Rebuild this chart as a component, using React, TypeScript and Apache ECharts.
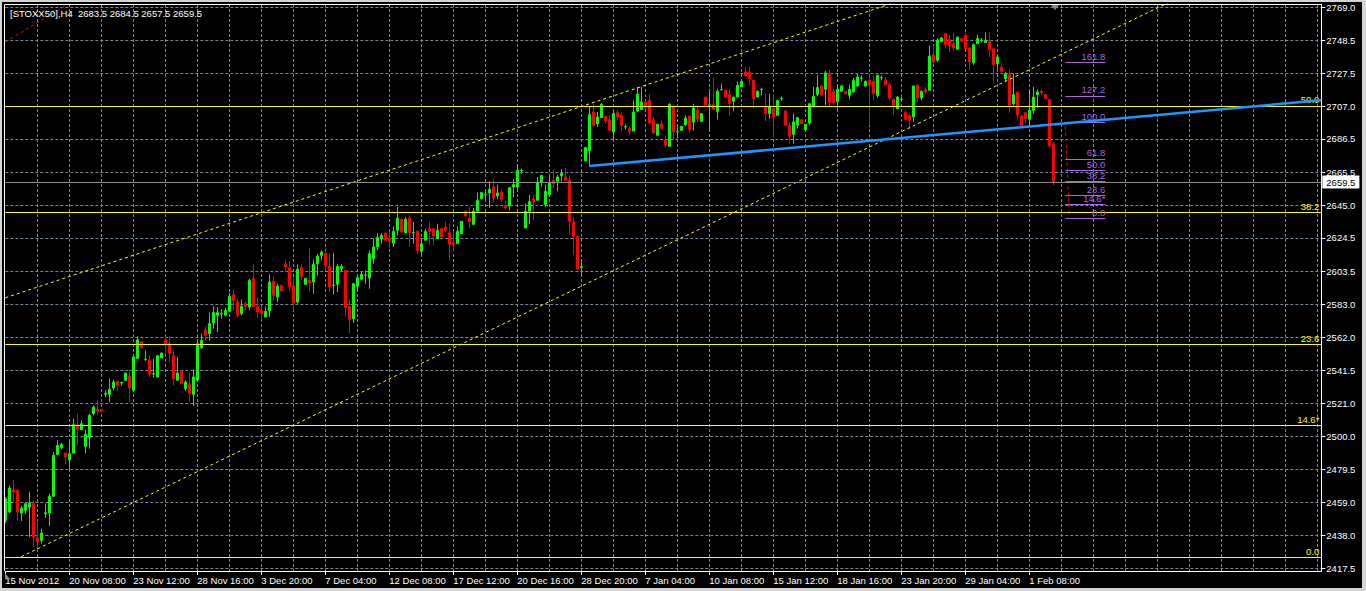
import React, { useEffect, useRef } from "react";
import * as echarts from "echarts";

// ---- OHLC data (H4 bars, STOXX50, 15 Nov 2012 .. 4 Feb 2013) ----
const opens = [
  2447.5, 2452.8, 2466.5, 2466.3, 2452.1, 2453.8, 2455.9, 2458.0, 2436.7, 2434.9,
  2451.7, 2452.1, 2462.6, 2488.9, 2493.0, 2489.7, 2485.5, 2489.7, 2507.5, 2504.3,
  2493.9, 2499.3, 2514.4, 2517.1, 2517.0, 2526.6, 2526.5, 2530.5, 2534.6, 2533.6,
  2535.3, 2538.0, 2529.0, 2549.0, 2559.5, 2548.4, 2547.8, 2539.2, 2537.4, 2549.3,
  2560.7, 2558.2, 2550.9, 2535.3, 2541.1, 2530.0, 2532.8, 2526.5, 2535.3, 2555.7,
  2567.0, 2564.5, 2571.2, 2576.0, 2577.0, 2576.0, 2578.5, 2589.0, 2584.4, 2577.0,
  2583.3, 2581.2, 2599.0, 2581.6, 2579.1, 2575.0, 2578.7, 2597.3, 2587.5, 2594.8,
  2608.0, 2605.9, 2594.6, 2584.4, 2605.9, 2595.4, 2597.9, 2596.9, 2608.4, 2613.6,
  2614.6, 2606.7, 2594.7, 2595.4, 2605.2, 2604.2, 2581.6, 2573.9, 2594.2, 2598.6,
  2601.0, 2599.4, 2611.5, 2618.8, 2624.0, 2627.6, 2624.0, 2621.3, 2629.3, 2636.2,
  2627.8, 2637.0, 2627.6, 2628.6, 2616.1, 2623.0, 2630.3, 2630.3, 2624.0, 2630.3,
  2631.3, 2627.8, 2621.5, 2620.9, 2627.2, 2641.2, 2637.0, 2633.0, 2641.4, 2649.1,
  2651.6, 2652.7, 2656.4, 2650.8, 2653.3, 2644.9, 2644.5, 2656.4, 2656.4, 2666.7,
  2630.7, 2641.2, 2649.1, 2648.1, 2659.5, 2645.4, 2651.6, 2660.6, 2660.0, 2663.3,
  2662.7, 2660.6, 2634.5, 2625.5, 2606.0, 2672.7, 2679.0, 2703.4, 2696.1, 2699.9,
  2700.7, 2698.6, 2690.9, 2703.0, 2701.3, 2694.0, 2693.0, 2691.5, 2704.0, 2704.9,
  2709.7, 2710.7, 2698.2, 2688.8, 2696.1, 2686.1, 2681.9, 2707.0, 2690.9, 2691.9,
  2695.5, 2700.9, 2697.1, 2704.5, 2697.5, 2712.8, 2707.6, 2708.0, 2703.8, 2717.3,
  2717.0, 2714.3, 2710.1, 2712.8, 2719.1, 2728.5, 2728.1, 2723.3, 2712.8, 2717.4,
  2706.6, 2702.4, 2705.5, 2701.3, 2711.7, 2704.0, 2695.1, 2689.4, 2695.1, 2698.6,
  2692.3, 2696.5, 2706.6, 2714.5, 2719.8, 2717.7, 2727.4, 2716.4, 2710.1, 2716.4,
  2716.4, 2713.8, 2715.9, 2719.7, 2724.6, 2719.7, 2723.2, 2722.6, 2713.8, 2724.9,
  2723.2, 2720.5, 2711.3, 2705.5, 2711.3, 2703.0, 2701.3, 2700.3, 2720.1, 2712.2,
  2717.6, 2717.0, 2739.3, 2735.8, 2747.3, 2752.5, 2748.9, 2746.2, 2742.7, 2749.4,
  2751.5, 2743.5, 2734.3, 2746.2, 2748.2, 2746.9, 2747.7, 2743.1, 2733.7, 2731.6,
  2724.3, 2726.8, 2708.6, 2715.9, 2700.9, 2703.0, 2698.8, 2704.4, 2714.3, 2716.4,
  2714.3, 2711.3, 2683.5,
];
const highs = [
  2462.0, 2469.5, 2472.6, 2467.0, 2456.3, 2458.6, 2465.5, 2460.1, 2445.9, 2442.3,
  2458.0, 2464.2, 2490.4, 2497.7, 2496.0, 2490.0, 2497.7, 2511.2, 2514.4, 2510.2,
  2504.4, 2514.4, 2519.6, 2523.1, 2517.5, 2529.0, 2536.3, 2535.7, 2535.3, 2534.2,
  2540.0, 2542.0, 2550.0, 2562.8, 2559.5, 2554.0, 2550.9, 2548.8, 2550.9, 2552.6,
  2562.8, 2562.8, 2554.0, 2549.9, 2542.0, 2535.3, 2539.9, 2542.0, 2560.3, 2564.5,
  2569.1, 2577.7, 2581.6, 2581.2, 2579.8, 2580.8, 2590.0, 2591.7, 2586.0, 2586.0,
  2584.8, 2599.0, 2608.0, 2587.1, 2581.6, 2581.6, 2601.7, 2600.4, 2595.8, 2594.8,
  2610.9, 2609.8, 2599.6, 2608.0, 2608.0, 2599.2, 2618.4, 2610.9, 2614.6, 2616.7,
  2616.7, 2615.0, 2615.0, 2608.0, 2608.0, 2604.2, 2586.0, 2596.3, 2601.7, 2603.4,
  2604.2, 2616.7, 2624.0, 2627.6, 2627.6, 2627.6, 2628.2, 2631.8, 2643.9, 2636.6,
  2637.6, 2638.7, 2634.5, 2629.3, 2624.0, 2630.3, 2634.5, 2630.3, 2633.4, 2630.3,
  2634.5, 2633.4, 2628.6, 2631.8, 2634.9, 2641.8, 2643.9, 2643.3, 2652.9, 2652.9,
  2655.0, 2660.0, 2661.2, 2657.9, 2655.0, 2648.1, 2656.0, 2661.2, 2670.4, 2667.9,
  2646.0, 2651.6, 2651.2, 2662.7, 2663.7, 2657.9, 2664.8, 2667.5, 2664.1, 2667.5,
  2668.5, 2663.7, 2637.6, 2626.1, 2609.4, 2681.1, 2706.6, 2708.6, 2703.4, 2709.0,
  2700.7, 2701.3, 2704.5, 2704.5, 2702.8, 2695.7, 2694.0, 2710.7, 2719.1, 2719.1,
  2710.7, 2714.5, 2700.3, 2695.7, 2698.2, 2688.8, 2709.0, 2708.2, 2694.0, 2694.6,
  2701.3, 2701.0, 2708.6, 2707.6, 2702.4, 2712.8, 2715.9, 2724.7, 2718.0, 2721.2,
  2717.0, 2718.0, 2712.8, 2722.6, 2722.6, 2731.5, 2731.5, 2723.3, 2717.0, 2718.7,
  2714.9, 2714.9, 2714.9, 2710.7, 2713.2, 2704.5, 2697.2, 2702.4, 2699.9, 2698.6,
  2695.7, 2708.6, 2719.1, 2726.4, 2720.1, 2729.1, 2730.1, 2718.0, 2720.1, 2720.1,
  2716.4, 2720.5, 2724.7, 2727.4, 2726.4, 2723.2, 2726.4, 2726.8, 2726.8, 2726.4,
  2725.3, 2722.2, 2712.2, 2713.4, 2712.8, 2704.4, 2702.4, 2719.7, 2721.2, 2717.0,
  2719.1, 2745.2, 2745.2, 2749.4, 2750.4, 2753.1, 2751.9, 2753.1, 2750.4, 2749.4,
  2753.1, 2744.1, 2746.2, 2751.9, 2749.8, 2753.1, 2753.5, 2743.1, 2739.3, 2734.3,
  2728.5, 2730.1, 2727.4, 2715.9, 2701.7, 2703.0, 2717.6, 2719.1, 2717.6, 2717.6,
  2714.3, 2711.3, 2684.5,
];
const lows = [
  2446.0, 2452.0, 2459.0, 2447.5, 2447.1, 2451.7, 2437.1, 2430.8, 2429.0, 2432.9,
  2449.0, 2443.8, 2462.2, 2488.3, 2492.0, 2482.6, 2479.3, 2489.3, 2494.5, 2504.0,
  2489.7, 2492.4, 2513.3, 2513.3, 2515.0, 2524.8, 2521.7, 2529.0, 2529.0, 2532.1,
  2535.0, 2521.7, 2529.0, 2549.0, 2555.0, 2547.4, 2537.4, 2537.0, 2537.0, 2549.0,
  2552.0, 2546.7, 2532.1, 2535.0, 2533.0, 2528.6, 2521.7, 2519.2, 2535.0, 2555.0,
  2560.0, 2560.0, 2567.6, 2565.6, 2573.9, 2575.6, 2578.5, 2579.1, 2574.5, 2576.0,
  2579.1, 2579.1, 2581.2, 2574.5, 2573.5, 2575.0, 2575.0, 2585.4, 2584.4, 2591.2,
  2604.2, 2591.2, 2579.1, 2583.3, 2597.9, 2595.4, 2591.0, 2589.6, 2601.0, 2610.5,
  2604.2, 2590.6, 2589.0, 2590.6, 2603.2, 2575.4, 2564.5, 2571.2, 2591.2, 2598.6,
  2595.8, 2592.7, 2608.4, 2616.7, 2620.9, 2623.0, 2618.2, 2618.8, 2626.1, 2628.2,
  2627.2, 2618.8, 2620.9, 2614.6, 2613.6, 2623.0, 2620.3, 2619.9, 2624.0, 2624.5,
  2627.8, 2610.5, 2615.7, 2620.9, 2627.2, 2637.6, 2630.7, 2632.4, 2641.2, 2648.5,
  2648.1, 2643.3, 2647.0, 2648.7, 2647.0, 2642.4, 2641.8, 2650.0, 2653.7, 2664.8,
  2630.7, 2633.4, 2635.5, 2648.1, 2656.4, 2643.9, 2651.6, 2655.8, 2653.7, 2660.0,
  2660.6, 2626.5, 2613.6, 2604.2, 2601.0, 2672.7, 2669.0, 2694.0, 2694.0, 2699.9,
  2696.1, 2691.9, 2686.1, 2698.2, 2691.5, 2692.3, 2688.8, 2691.5, 2703.4, 2704.9,
  2705.5, 2696.1, 2689.8, 2688.8, 2693.0, 2681.1, 2681.9, 2685.7, 2686.7, 2691.5,
  2694.6, 2690.4, 2691.9, 2697.1, 2697.5, 2707.6, 2692.5, 2705.0, 2698.8, 2717.0,
  2712.8, 2700.9, 2703.8, 2712.8, 2719.1, 2726.0, 2720.1, 2705.5, 2712.8, 2713.9,
  2697.8, 2699.2, 2687.7, 2701.3, 2710.3, 2695.1, 2683.6, 2683.6, 2693.0, 2696.1,
  2692.3, 2695.1, 2706.6, 2713.2, 2713.9, 2707.6, 2706.5, 2708.0, 2705.5, 2716.0,
  2714.3, 2711.3, 2715.9, 2719.1, 2722.6, 2719.0, 2695.0, 2710.7, 2712.2, 2723.2,
  2720.1, 2710.7, 2701.7, 2705.1, 2709.7, 2698.2, 2692.5, 2697.2, 2709.7, 2710.7,
  2714.9, 2717.0, 2733.7, 2734.7, 2747.3, 2743.1, 2741.0, 2742.0, 2742.7, 2747.7,
  2742.7, 2729.5, 2733.0, 2746.2, 2746.9, 2746.9, 2737.9, 2722.6, 2730.6, 2726.8,
  2722.6, 2703.0, 2707.6, 2698.8, 2695.0, 2696.1, 2695.0, 2702.4, 2705.9, 2713.9,
  2711.8, 2680.8, 2657.5,
];
const closes = [
  2461.0, 2467.8, 2465.3, 2452.8, 2455.2, 2458.0, 2458.4, 2437.1, 2433.9, 2439.6,
  2452.3, 2462.6, 2488.3, 2494.5, 2495.2, 2487.2, 2489.3, 2507.5, 2504.6, 2508.1,
  2501.4, 2513.3, 2518.5, 2516.0, 2516.0, 2527.0, 2529.6, 2534.2, 2532.1, 2534.0,
  2539.9, 2530.5, 2549.9, 2560.7, 2555.7, 2548.6, 2539.2, 2539.4, 2550.7, 2552.4,
  2557.4, 2552.0, 2536.3, 2539.9, 2533.2, 2534.2, 2526.9, 2537.4, 2558.2, 2560.3,
  2563.5, 2570.8, 2577.7, 2577.7, 2577.3, 2579.1, 2587.9, 2585.4, 2576.0, 2581.6,
  2581.6, 2597.9, 2581.6, 2578.1, 2577.0, 2578.5, 2596.9, 2588.5, 2594.2, 2591.2,
  2606.3, 2593.8, 2583.7, 2604.8, 2600.4, 2599.2, 2596.3, 2608.0, 2613.0, 2615.7,
  2607.3, 2593.8, 2595.0, 2606.7, 2606.7, 2580.8, 2573.3, 2595.8, 2599.6, 2601.7,
  2601.1, 2614.6, 2618.8, 2624.7, 2626.1, 2623.0, 2622.6, 2628.6, 2636.8, 2628.2,
  2636.2, 2627.8, 2627.8, 2616.7, 2620.9, 2628.6, 2628.6, 2625.7, 2629.3, 2625.1,
  2629.3, 2620.5, 2620.5, 2628.6, 2634.9, 2638.3, 2634.5, 2641.2, 2648.1, 2652.9,
  2651.8, 2654.9, 2649.5, 2652.7, 2648.7, 2643.3, 2656.0, 2657.9, 2666.9, 2666.9,
  2641.2, 2647.4, 2647.0, 2659.5, 2663.7, 2653.7, 2659.5, 2658.5, 2662.7, 2664.8,
  2660.6, 2634.9, 2625.5, 2605.2, 2606.5, 2681.1, 2701.9, 2695.1, 2700.3, 2708.2,
  2697.8, 2691.9, 2702.4, 2700.3, 2695.1, 2694.2, 2690.9, 2703.4, 2714.5, 2709.7,
  2706.1, 2696.5, 2690.3, 2695.7, 2693.0, 2682.5, 2708.2, 2690.9, 2691.1, 2694.4,
  2699.7, 2692.5, 2705.9, 2698.8, 2702.4, 2707.6, 2707.8, 2705.1, 2716.4, 2717.5,
  2712.8, 2708.6, 2712.8, 2720.1, 2722.6, 2726.0, 2724.3, 2711.8, 2716.4, 2717.6,
  2702.4, 2706.6, 2700.3, 2710.7, 2711.8, 2695.1, 2688.2, 2697.2, 2699.9, 2696.1,
  2695.7, 2708.6, 2713.2, 2718.7, 2713.9, 2727.9, 2709.3, 2709.3, 2717.6, 2719.7,
  2714.9, 2717.6, 2723.2, 2725.3, 2724.7, 2722.6, 2720.5, 2714.9, 2726.4, 2725.0,
  2720.5, 2712.2, 2707.1, 2712.8, 2711.4, 2698.8, 2698.2, 2719.7, 2712.2, 2716.4,
  2715.9, 2738.5, 2734.7, 2748.3, 2749.8, 2745.6, 2744.8, 2743.5, 2750.4, 2747.7,
  2743.1, 2734.7, 2745.6, 2749.4, 2748.4, 2748.3, 2742.7, 2733.1, 2737.9, 2728.9,
  2727.4, 2707.6, 2714.3, 2701.7, 2695.0, 2699.2, 2704.4, 2712.8, 2715.9, 2715.5,
  2711.8, 2682.1, 2659.5,
];

// ---- axes ----
const SLOTS = 330; // bar slots across the chart (data + empty shift area)
const xTickLabels = [
  "15 Nov 2012", "20 Nov 08:00", "23 Nov 12:00", "28 Nov 16:00", "3 Dec 20:00",
  "7 Dec 04:00", "12 Dec 08:00", "17 Dec 12:00", "20 Dec 16:00", "28 Dec 20:00",
  "7 Jan 04:00", "10 Jan 08:00", "15 Jan 12:00", "18 Jan 16:00", "23 Jan 20:00",
  "29 Jan 04:00", "1 Feb 08:00",
];
const X_LABEL_STEP = 16;
const X_GRID_STEP = 8;
const yTickValues = [
  2417.5, 2438.0, 2459.0, 2479.5, 2500.0, 2521.0, 2541.5, 2562.0, 2583.0,
  2603.5, 2624.5, 2645.0, 2665.5, 2686.5, 2707.0, 2727.5, 2748.5, 2769.0,
];
const Y_MIN = 2415.81;
const Y_MAX = 2771.07;

// ---- objects drawn on the chart ----
const header = "[STOXX50],H4  2683.5 2684.5 2657.5 2659.5";
const lastPrice = 2659.5;
const fibRetLevels = [0, 14.6, 23.6, 38.2, 50];
const fibRetLabels = ["0.0", "14.6*", "23.6", "38.2", "50.0"];
const fibRetAnchors = [2424.4, 2990.0]; // 0% and 100%
const fibExpLevels = [0, 14.6, 23.6, 38.2, 50, 61.8, 100, 127.2, 161.8];
const fibExpLabels = ["0.0", "14.6*", "23.6", "38.2", "50.0", "61.8", "100.0", "127.2", "161.8"];
const fibExpAnchors = [2636.8, 2697.1]; // 0% and 100%
const fibExpBars = [265, 275];
const trendBlue = [[146, 2669.5], [329, 2710.8]];
const trendUpperYellow = [[0, 2587.0], [230, 2778.4]];
const trendLowerYellow = [[4, 2424.8], [300, 2783.1]];
const trendRedTop = [[0, 2747.3], [16, 2771.4]];
const trendRedFibo = [[265, 2694.2], [266, 2638.8]];

const FONT = "'Liberation Sans', Arial, sans-serif";
const GRID_COLOR = "#778899";
const PURPLE = "#a865e0";

export default function App() {
  const ref = useRef<HTMLDivElement>(null);

  useEffect(() => {
    if (!ref.current) return;
    const chart = echarts.init(ref.current, undefined, { renderer: "svg" });

    const categories = Array.from({ length: SLOTS }, (_, i) => String(i));
    const candles = opens.map((o, i) => [o, closes[i], lows[i], highs[i]]);
    const lastLabelIdx = (xTickLabels.length - 1) * X_LABEL_STEP;

    const fibRetPrice = (l: number) => fibRetAnchors[0] + (l / 100) * (fibRetAnchors[1] - fibRetAnchors[0]);
    const fibExpPrice = (l: number) => fibExpAnchors[0] + (l / 100) * (fibExpAnchors[1] - fibExpAnchors[0]);

    const dotted = (data: number[][], color: string, name: string) => ({
      type: "line",
      name,
      data,
      showSymbol: false,
      symbol: "none",
      silent: true,
      lineStyle: { color, width: 1, type: [3, 3] },
      z: 4,
    });

    const option: any = {
      animation: false,
      backgroundColor: "#000000",
      textStyle: { fontFamily: FONT },
      grid: { left: 5.33, top: 4, width: 1316, height: 567, containLabel: false },
      xAxis: {
        type: "category",
        data: categories,
        boundaryGap: false,
        axisLine: { show: true, lineStyle: { color: "#ffffff", width: 1 } },
        axisTick: {
          show: true,
          length: 4,
          interval: (i: number) => i % X_LABEL_STEP === 0 && i <= lastLabelIdx,
          lineStyle: { color: "#ffffff" },
        },
        axisLabel: {
          show: true,
          interval: (i: number) => i % X_LABEL_STEP === 0 && i <= lastLabelIdx,
          formatter: (v: string) => xTickLabels[Number(v) / X_LABEL_STEP] ?? "",
          align: "left",
          color: "#ffffff",
          fontSize: 9.5,
          fontFamily: FONT,
          margin: 4,
        },
        splitLine: {
          show: true,
          interval: (i: number) => i > 0 && i % X_GRID_STEP === 0,
          lineStyle: { color: GRID_COLOR, width: 1, type: [3, 2] },
        },
      },
      yAxis: {
        type: "value",
        position: "right",
        min: Y_MIN,
        max: Y_MAX,
        scale: true,
        axisLine: { show: true, lineStyle: { color: "#ffffff", width: 1 } },
        axisTick: {
          show: true,
          length: 4,
          customValues: yTickValues,
          lineStyle: { color: "#ffffff" },
        },
        axisLabel: {
          show: true,
          customValues: yTickValues,
          formatter: (v: number) => v.toFixed(1),
          color: "#ffffff",
          fontSize: 9.5,
          fontFamily: FONT,
          margin: 5,
        },
        splitLine: {
          show: true,
          lineStyle: { color: GRID_COLOR, width: 1, type: [3, 2] },
        },
      },
      series: [
        {
          type: "candlestick",
          name: "STOXX50",
          data: candles,
          barWidth: 2,
          clip: false,
          silent: true,
          itemStyle: {
            color: "#00ff00",
            color0: "#ff0000",
            borderColor: "#00ff00",
            borderColor0: "#ff0000",
            borderWidth: 1,
          },
          z: 2,
        },
        dotted(trendUpperYellow, "#ffff00", "upper"),
        dotted(trendLowerYellow, "#ffff00", "lower"),
        dotted(trendRedTop, "#ff0000", "redTop"),
        dotted(trendRedFibo, "#ff0000", "redFibo"),
        {
          type: "line",
          name: "blueTrend",
          data: trendBlue,
          showSymbol: false,
          symbol: "none",
          silent: true,
          lineStyle: { color: "#1e96ff", width: 2.5, type: "solid" },
          z: 5,
        },
        {
          type: "line",
          name: "fibRet",
          data: [],
          silent: true,
          z: 3,
          markLine: {
            silent: true,
            symbol: ["none", "none"],
            animation: false,
            lineStyle: { color: "#ffff00", width: 1, type: "solid" },
            label: {
              show: true,
              position: "insideEndTop",
              formatter: "{b}",
              color: "#ffff00",
              fontSize: 9.5,
              fontFamily: FONT,
              distance: [2, 1],
            },
            emphasis: { disabled: true },
            data: [
              ...fibRetLevels.map((l, k) => ({ name: fibRetLabels[k], yAxis: fibRetPrice(l) })),
            ],
          },
        },
        {
          type: "line",
          name: "lastPrice",
          data: [],
          silent: true,
          z: 3,
          markLine: {
            silent: true,
            symbol: ["none", "none"],
            animation: false,
            lineStyle: { color: "#8c8c8c", width: 1, type: "solid" },
            label: {
              show: true,
              position: "end",
              formatter: lastPrice.toFixed(1),
              color: "#000000",
              backgroundColor: "#ffffff",
              padding: [2, 4, 1, 4],
              fontSize: 9.5,
              fontFamily: FONT,
              distance: 1,
            },
            emphasis: { disabled: true },
            data: [{ yAxis: lastPrice }],
          },
        },
        {
          type: "line",
          name: "fibExp",
          data: [],
          silent: true,
          z: 6,
          markLine: {
            silent: true,
            symbol: ["none", "none"],
            animation: false,
            lineStyle: { color: PURPLE, width: 1, type: "solid" },
            label: {
              show: true,
              position: "insideEndTop",
              formatter: "{b}",
              color: PURPLE,
              fontSize: 9.5,
              fontFamily: FONT,
              distance: [0, 1],
            },
            emphasis: { disabled: true },
            data: fibExpLevels.map((l, k) => [
              { name: fibExpLabels[k], coord: [fibExpBars[0], fibExpPrice(l)] },
              { coord: [fibExpBars[1], fibExpPrice(l)] },
            ]),
          },
        },
      ],
      graphic: [
        // window frame (light grey)
        { type: "rect", shape: { x: 0, y: 0, width: 1366, height: 2 }, style: { fill: "#d4d4d4" }, z: 100, silent: true },
        { type: "rect", shape: { x: 0, y: 0, width: 2, height: 591 }, style: { fill: "#d4d4d4" }, z: 100, silent: true },
        { type: "rect", shape: { x: 1362, y: 0, width: 4, height: 591 }, style: { fill: "#d4d4d4" }, z: 100, silent: true },
        { type: "rect", shape: { x: 0, y: 588, width: 1366, height: 3 }, style: { fill: "#d4d4d4" }, z: 100, silent: true },
        // chart frame (left & top edges)
        { type: "line", shape: { x1: 4.5, y1: 4.5, x2: 1321.5, y2: 4.5 }, style: { stroke: "#ffffff", lineWidth: 1 }, z: 100, silent: true },
        { type: "line", shape: { x1: 4.5, y1: 4.5, x2: 4.5, y2: 571 }, style: { stroke: "#ffffff", lineWidth: 1 }, z: 100, silent: true },
        // chart shift markers
        { type: "polygon", shape: { points: [[1051, 5], [1059, 5], [1055, 10]] }, style: { fill: "#8a8a8a" }, z: 100, silent: true },
        { type: "polygon", shape: { points: [[5, 573], [5, 579], [10, 579]] }, style: { fill: "#8a8a8a" }, z: 100, silent: true },
        // header
        {
          type: "text",
          x: 10,
          y: 8,
          z: 100,
          silent: true,
          style: {
            text: header,
            fill: "#ffffff",
            fontSize: 9.5,
            fontFamily: FONT,
            verticalAlign: "top",
            align: "left",
          },
        },
      ],
    };

    chart.setOption(option);
    return () => chart.dispose();
  }, []);

  return (
    <div style={{ position: "fixed", left: 0, top: 0, width: 1366, height: 591, background: "#000" }}>
      <div ref={ref} style={{ width: 1366, height: 591 }} />
    </div>
  );
}
